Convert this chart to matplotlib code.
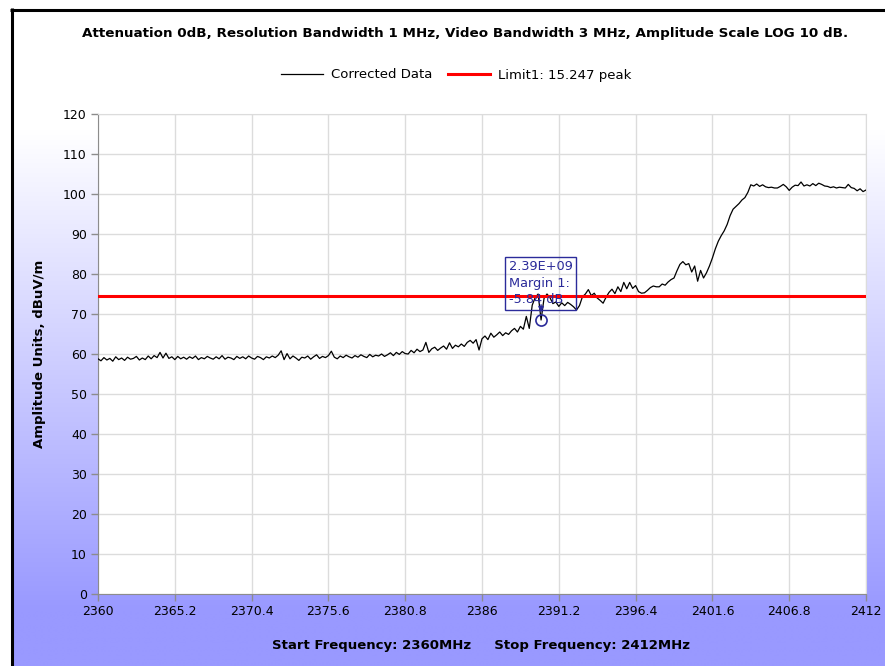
import numpy as np
import matplotlib
matplotlib.use("Agg")
import matplotlib.pyplot as plt
from matplotlib.lines import Line2D

# ---------------- data ----------------
start_freq = 2360.0
stop_freq = 2412.0
amplitude = [
    58.8, 58.3, 59.1, 58.5, 58.9, 58.2, 59.3, 58.6, 59.0, 58.4,
    59.2, 58.7, 58.9, 59.4, 58.5, 59.0, 58.6, 59.5, 58.8, 59.6,
    59.1, 60.4, 59.0, 60.2, 58.9, 59.3, 58.6, 59.4, 58.8, 59.2,
    58.7, 59.3, 58.9, 59.5, 58.6, 59.1, 58.8, 59.4, 59.0, 58.7,
    59.3, 58.8, 59.6, 58.7, 59.2, 59.0, 58.6, 59.4, 58.9, 59.3,
    58.8, 59.5, 59.0, 58.7, 59.4, 59.1, 58.6, 59.3, 59.0, 59.5,
    59.1, 59.7, 60.8, 58.6, 60.1, 58.8, 59.5, 59.0, 58.4, 59.2,
    59.0, 59.5, 58.7, 59.3, 59.8, 58.9, 59.4, 59.1, 59.6, 60.7,
    59.2, 58.8, 59.5, 59.1, 59.7, 59.3, 59.0, 59.6, 59.2, 59.8,
    59.4, 59.1, 59.9, 59.3, 59.7, 59.5, 60.0, 59.4, 59.8, 60.3,
    59.6, 60.4, 59.9, 60.6, 60.1, 60.0, 60.9, 60.3, 61.2, 60.6,
    61.0, 62.9, 60.4, 61.3, 61.7, 60.9, 61.5, 62.0, 61.2, 62.8,
    61.4, 62.2, 61.8, 62.5, 61.9, 62.9, 63.4, 62.7, 63.6, 61.0,
    63.8, 64.5, 63.6, 65.2, 64.2, 64.8, 65.5, 64.6, 65.3, 64.9,
    65.8, 66.4, 65.5, 66.9, 66.2, 69.4, 66.4, 72.2, 74.1, 75.0,
    68.5, 73.9, 75.0, 74.1, 72.6, 73.0, 71.9, 72.8, 72.1, 72.9,
    72.4, 71.8, 71.0, 72.1, 74.3, 75.0, 76.1, 74.6, 75.2, 74.0,
    73.4, 72.7, 74.2, 75.4, 76.2, 75.1, 76.8, 75.6, 77.9, 76.3,
    77.9, 76.4, 77.1, 75.6, 75.2, 75.3, 75.9, 76.6, 77.0, 76.8,
    76.8, 77.5, 77.2, 78.0, 78.6, 79.0, 80.8, 82.4, 83.1, 82.3,
    82.6, 80.5, 82.0, 78.2, 80.9, 79.0, 80.3, 82.0, 84.0, 86.3,
    88.2, 89.6, 90.8, 92.4, 94.6, 96.2, 96.9, 97.6, 98.5, 99.1,
    100.4, 102.3, 102.0, 102.5, 101.9, 102.3, 101.8, 101.6, 101.7, 101.5,
    101.5, 101.9, 102.4, 101.8, 100.9, 101.7, 102.2, 102.1, 103.0, 102.0,
    102.3, 102.0, 102.6, 102.1, 102.7, 102.4, 102.0, 101.9, 101.6, 101.8,
    101.5, 101.7, 101.6, 101.5, 102.4, 101.6, 101.4, 100.8, 101.3, 100.6,
    101.0,
]
limit_value = 74.4
marker_freq = 2390.0
marker_value = 68.5
marker_label = ["2.39E+09", "Margin 1:", "-5.84 dB"]
x_tick_values = [2360, 2365.2, 2370.4, 2375.6, 2380.8, 2386, 2391.2, 2396.4, 2401.6, 2406.8, 2412]
x_tick_labels = ["2360", "2365.2", "2370.4", "2375.6", "2380.8", "2386", "2391.2", "2396.4", "2401.6", "2406.8", "2412"]
y_tick_values = [0, 10, 20, 30, 40, 50, 60, 70, 80, 90, 100, 110, 120]

freq = np.linspace(start_freq, stop_freq, len(amplitude))

# ---------------- figure ----------------
W, H = 885, 666
fig = plt.figure(figsize=(W / 100, H / 100), dpi=100)
fig.patch.set_facecolor("white")

# gradient background inside frame
bg = fig.add_axes([13 / W, 0, 1 - 13 / W, (H - 11) / H])
bg.set_axis_off()
rows = 400
t = np.linspace(0, 1, rows)  # top -> bottom
ypix = 11 + t * (H - 11)
frac = np.clip((ypix - 130) / (610 - 130), 0, 1)
top = np.array([1.0, 1.0, 1.0])
bot = np.array([153, 153, 255]) / 255.0
grad = top[None, :] * (1 - frac[:, None]) + bot[None, :] * frac[:, None]
grad = np.repeat(grad[:, None, :], 2, axis=1)
bg.imshow(grad, aspect="auto", extent=[0, 1, 0, 1], interpolation="bilinear")
bg.set_xlim(0, 1)
bg.set_ylim(0, 1)

# black frame (top and left)
fig.add_artist(Line2D([11.5 / W, 11.5 / W], [0, 1 - 8 / H], transform=fig.transFigure,
                      color="black", lw=2.2, solid_capstyle="butt"))
fig.add_artist(Line2D([10 / W, 1], [1 - 9.5 / H, 1 - 9.5 / H], transform=fig.transFigure,
                      color="black", lw=2.2, solid_capstyle="butt"))

ax = fig.add_axes([98 / W, (H - 594) / H, 768 / W, 480 / H])
ax.set_facecolor("white")

ax.plot(freq, amplitude, color="black", lw=0.9, label="Corrected Data", zorder=3)
ax.axhline(limit_value, color="#ff0000", lw=2.2, label="Limit1: 15.247 peak", zorder=4)

ax.set_xlim(start_freq, stop_freq)
ax.set_ylim(0, 120)
ax.set_xticks(x_tick_values)
ax.set_xticklabels(x_tick_labels)
ax.set_yticks(y_tick_values)
ax.grid(True, color="#dcdcdc", lw=1.0, zorder=0)
ax.set_axisbelow(True)
for s in ["top", "right"]:
    ax.spines[s].set_color("#dcdcdc")
for s in ["left", "bottom"]:
    ax.spines[s].set_color("#8c8c8c")
ax.tick_params(axis="both", colors="#8c8c8c", labelcolor="black", length=5, width=1,
               labelsize=9, pad=3)

ax.set_ylabel("Amplitude Units, dBuV/m", fontsize=9.5, fontweight="bold", labelpad=12)

# marker annotation
navy = "#2b2b9a"
ax.plot([marker_freq], [marker_value], marker="o", ms=8, mfc="none", mec=navy, mew=1.2, zorder=6)
ax.annotate("", xy=(marker_freq, marker_value + 1.2), xytext=(marker_freq, marker_value + 4.5),
            arrowprops=dict(arrowstyle="-|>", color=navy, lw=1.0, mutation_scale=8), zorder=6)
ax.text(2387.8, 83.4, "\n".join(marker_label), color=navy, fontsize=9.3, ha="left", va="top",
        linespacing=1.35, zorder=7,
        bbox=dict(boxstyle="square,pad=0.28", fc="none", ec=navy, lw=1.0))

# title, legend, bottom label
fig.text(465 / W, 1 - 34 / H,
         "Attenuation 0dB, Resolution Bandwidth 1 MHz, Video Bandwidth 3 MHz, Amplitude Scale LOG 10 dB.",
         ha="center", va="center", fontsize=9.7, fontweight="bold")
fig.legend(loc="center", bbox_to_anchor=(456 / W, 1 - 75 / H), ncol=2, frameon=False,
           fontsize=9.5, handlelength=3.2, columnspacing=1.2, handletextpad=0.6)
fig.text(481 / W, 1 - 646 / H, "Start Frequency: 2360MHz     Stop Frequency: 2412MHz",
         ha="center", va="center", fontsize=9.5, fontweight="bold")

fig.savefig("out.png", dpi=100)
